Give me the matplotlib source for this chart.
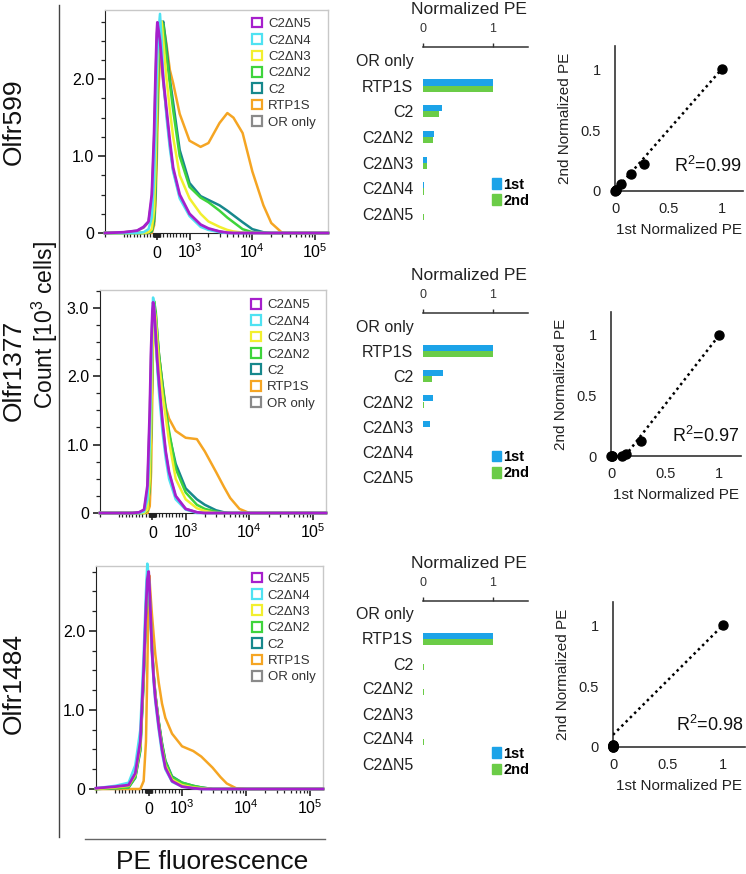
import numpy as np
import matplotlib
matplotlib.use("Agg")
import matplotlib.pyplot as plt
from matplotlib.patches import Patch
from matplotlib.lines import Line2D

plt.rcParams['font.family'] = ['Liberation Sans', 'DejaVu Sans']
plt.rcParams['mathtext.fontset'] = 'custom'
plt.rcParams['mathtext.rm'] = 'Liberation Sans'
plt.rcParams['mathtext.it'] = 'Liberation Sans:italic'
plt.rcParams['mathtext.bf'] = 'Liberation Sans:bold'

# ---------------- data ----------------
receptors = ["Olfr599", "Olfr1377", "Olfr1484"]
samples = ["C2ΔN5", "C2ΔN4", "C2ΔN3", "C2ΔN2", "C2", "RTP1S", "OR only"]
sample_colors = ["#a61fcc", "#4fe2f2", "#f2ef2e", "#3fd43c", "#17888c", "#f5a523", "#8a8a8a"]

# PE fluorescence positions where the histograms were read
pe = [-2000, -1000, -600, -400, -250, -150, -80, -40, 0, 20, 50, 100, 150, 200, 300,
      400, 500, 700, 1000, 1500, 2000, 3000, 4000, 5000, 7000, 10000, 15000, 20000, 30000, 160000]

# counts [10^3 cells], same order as samples
hist_599 = [
    [0, 0.01, 0.03, 0.08, 0.15, 0.5, 1.3, 2.0, 2.6, 2.74, 2.65, 2.5, 2.25, 2.0, 1.6, 1.2, 0.85, 0.5, 0.25, 0.11, 0.06, 0.02, 0.005, 0, 0, 0, 0, 0, 0, 0],
    [0, 0, 0, 0.01, 0.05, 0.2, 0.7, 1.3, 2.0, 2.3, 2.6, 2.85, 2.5, 2.05, 1.5, 1.1, 0.8, 0.45, 0.22, 0.08, 0.04, 0.01, 0, 0, 0, 0, 0, 0, 0, 0],
    [0, 0, 0, 0, 0.01, 0.05, 0.3, 0.8, 1.6, 2.0, 2.4, 2.7, 2.75, 2.5, 2.0, 1.6, 1.25, 0.75, 0.45, 0.25, 0.15, 0.08, 0.04, 0.02, 0.005, 0, 0, 0, 0, 0],
    [0, 0, 0, 0, 0.01, 0.03, 0.2, 0.6, 1.4, 1.8, 2.3, 2.6, 2.75, 2.7, 2.3, 1.95, 1.6, 1.0, 0.6, 0.46, 0.4, 0.29, 0.2, 0.14, 0.05, 0.01, 0, 0, 0, 0],
    [0, 0, 0, 0, 0, 0.02, 0.15, 0.5, 1.3, 1.7, 2.2, 2.55, 2.7, 2.75, 2.4, 2.0, 1.7, 1.08, 0.65, 0.48, 0.43, 0.36, 0.29, 0.23, 0.14, 0.05, 0.01, 0, 0, 0],
    [0, 0, 0, 0, 0, 0, 0.1, 0.35, 0.9, 1.3, 1.8, 2.3, 2.6, 2.72, 2.45, 2.12, 1.95, 1.55, 1.2, 1.12, 1.17, 1.43, 1.56, 1.5, 1.3, 0.8, 0.36, 0.13, 0, 0],
    [0, 0.01, 0.03, 0.07, 0.14, 0.45, 1.2, 1.9, 2.5, 2.65, 2.6, 2.45, 2.2, 1.95, 1.55, 1.15, 0.82, 0.48, 0.24, 0.1, 0.05, 0.02, 0, 0, 0, 0, 0, 0, 0, 0],
]
hist_1377 = [
    [0, 0, 0, 0.01, 0.05, 0.4, 1.5, 2.4, 2.95, 3.08, 3.0, 2.6, 2.2, 1.9, 1.35, 0.9, 0.6, 0.25, 0.06, 0.01, 0, 0, 0, 0, 0, 0, 0, 0, 0, 0],
    [0, 0, 0, 0, 0.02, 0.2, 1.0, 2.0, 2.9, 3.15, 3.05, 2.55, 2.1, 1.75, 1.2, 0.8, 0.5, 0.2, 0.05, 0, 0, 0, 0, 0, 0, 0, 0, 0, 0, 0],
    [0, 0, 0, 0, 0, 0.05, 0.5, 1.3, 2.3, 2.7, 3.0, 2.85, 2.5, 2.2, 1.75, 1.4, 1.05, 0.5, 0.2, 0.07, 0.03, 0, 0, 0, 0, 0, 0, 0, 0, 0],
    [0, 0, 0, 0, 0, 0.04, 0.4, 1.2, 2.2, 2.7, 3.1, 2.95, 2.6, 2.3, 1.85, 1.5, 1.2, 0.65, 0.3, 0.12, 0.06, 0.02, 0, 0, 0, 0, 0, 0, 0, 0],
    [0, 0, 0, 0, 0, 0.04, 0.4, 1.2, 2.2, 2.6, 3.0, 2.9, 2.6, 2.3, 1.9, 1.5, 1.15, 0.72, 0.36, 0.2, 0.12, 0.04, 0.01, 0, 0, 0, 0, 0, 0, 0],
    [0, 0, 0, 0, 0, 0, 0.1, 0.6, 1.8, 2.6, 3.05, 2.8, 2.5, 2.3, 1.9, 1.55, 1.38, 1.2, 1.1, 1.08, 0.9, 0.6, 0.38, 0.22, 0.06, 0, 0, 0, 0, 0],
    [0, 0, 0, 0.01, 0.04, 0.35, 1.4, 2.3, 2.9, 3.0, 2.9, 2.5, 2.15, 1.85, 1.3, 0.88, 0.58, 0.24, 0.06, 0.01, 0, 0, 0, 0, 0, 0, 0, 0, 0, 0],
]
hist_1484 = [
    [0.01, 0.03, 0.05, 0.2, 0.6, 1.5, 2.3, 2.65, 2.75, 2.6, 2.3, 1.75, 1.4, 1.15, 0.8, 0.5, 0.27, 0.1, 0.03, 0.01, 0, 0, 0, 0, 0, 0, 0, 0, 0, 0],
    [0.01, 0.04, 0.08, 0.3, 0.75, 1.7, 2.5, 2.85, 2.7, 2.5, 2.2, 1.7, 1.35, 1.1, 0.75, 0.45, 0.25, 0.09, 0.03, 0.01, 0, 0, 0, 0, 0, 0, 0, 0, 0, 0],
    [0, 0.02, 0.04, 0.18, 0.55, 1.45, 2.3, 2.65, 2.7, 2.55, 2.3, 1.78, 1.42, 1.18, 0.82, 0.52, 0.3, 0.12, 0.05, 0.02, 0.01, 0, 0, 0, 0, 0, 0, 0, 0, 0],
    [0, 0.01, 0.02, 0.15, 0.5, 1.4, 2.3, 2.7, 2.7, 2.55, 2.3, 1.8, 1.45, 1.2, 0.85, 0.57, 0.35, 0.15, 0.08, 0.04, 0.02, 0, 0, 0, 0, 0, 0, 0, 0, 0],
    [0, 0.01, 0.02, 0.14, 0.48, 1.35, 2.2, 2.6, 2.62, 2.5, 2.25, 1.78, 1.45, 1.2, 0.86, 0.58, 0.36, 0.16, 0.08, 0.04, 0.02, 0, 0, 0, 0, 0, 0, 0, 0, 0],
    [0, 0, 0, 0, 0, 0.1, 0.6, 1.5, 2.5, 2.7, 2.5, 2.2, 1.95, 1.7, 1.35, 1.08, 0.9, 0.7, 0.54, 0.48, 0.41, 0.27, 0.15, 0.07, 0.01, 0, 0, 0, 0, 0],
    [0.01, 0.02, 0.04, 0.17, 0.55, 1.45, 2.25, 2.6, 2.65, 2.5, 2.25, 1.75, 1.42, 1.18, 0.84, 0.55, 0.33, 0.14, 0.07, 0.03, 0.01, 0, 0, 0, 0, 0, 0, 0, 0, 0],
]
hist_ymax = [2.9, 3.26, 2.82]
hist_yticks = [[0, 1, 2], [0, 1, 2, 3], [0, 1, 2]]

# normalized PE, two experiments
bar_cats = ["OR only", "RTP1S", "C2", "C2ΔN2", "C2ΔN3", "C2ΔN4", "C2ΔN5"]
first_599 = [0, 1, 0.27, 0.15, 0.055, 0.01, 0.005]
second_599 = [0, 1, 0.225, 0.14, 0.06, 0.01, 0.01]
first_1377 = [0, 1, 0.28, 0.14, 0.1, 0.005, 0.005]
second_1377 = [0, 1, 0.126, 0.016, 0, 0, 0]
first_1484 = [0, 1, 0, 0, 0, 0, 0]
second_1484 = [0, 1, 0.01, 0.02, 0, 0.02, 0.005]

# dotted fit line ends and R^2
fit_x = [[0, 1], [0.13, 1], [0, 1]]
fit_y = [[0, 1], [0, 1], [0.1, 1]]
r2 = ["0.99", "0.97", "0.98"]

blue = "#1ca3e8"
green = "#6bcc47"

# ---------------- figure ----------------
W, H = 746, 874
fig = plt.figure(figsize=(W / 100, H / 100), dpi=100)


def box(x0, y0, x1, y1):
    # pixel box (top-left origin) -> figure fraction rect
    return [x0 / W, 1 - y1 / H, (x1 - x0) / W, (y1 - y0) / H]


hist_boxes = [box(105, 10, 328, 233), box(100, 290, 326, 513), box(96, 566, 323, 789)]
bar_boxes = [box(423, 47, 528, 227), box(423, 313, 528, 490), box(423, 601, 528, 776)]
sc_boxes = [box(615, 46, 743, 191), box(611, 312, 741, 456), box(613, 602, 745, 747)]
leg_anchor = [(0.66, 0.965), (0.67, 0.96), (0.687, 0.97)]
bar_leg_y = [0.19, 0.14, 0.08]
r2_y = [0.1, 0.07, 0.08]

hists = [hist_599, hist_1377, hist_1484]
firsts = [first_599, first_1377, first_1484]
seconds = [second_599, second_1377, second_1484]

xminor = ([-2000, -1000] + [-k * 100 for k in range(1, 10)] + [-k * 10 for k in range(1, 10)]
          + [k * 10 for k in range(1, 10)] + [k * 100 for k in range(1, 10)]
          + [k * 1000 for k in range(2, 10)] + [k * 10000 for k in range(2, 10)])

for i in range(3):
    # histogram
    ax = fig.add_axes(hist_boxes[i])
    order = list(range(len(samples)))[::-1]
    for j in order:
        ax.plot(pe, hists[i][j], color=sample_colors[j], lw=2.0 if j == 0 else 1.8,
                solid_joinstyle='round', clip_on=False, zorder=3 + (6 - j))
    ax.set_xscale('symlog', linthresh=1000, linscale=0.47)
    ax.set_xlim(-2000, 1.6e5)
    ax.set_ylim(0, hist_ymax[i])
    ax.set_xticks([0, 1e3, 1e4, 1e5])
    ax.set_xticklabels(['0', '$10^3$', '$10^4$', '$10^5$'])
    for lab in ax.get_xticklabels():
        lab.set_verticalalignment('baseline')
    ax.set_xticks(xminor, minor=True)
    ax.set_yticks(hist_yticks[i])
    ax.set_yticklabels(['0'] + ['%.1f' % v for v in hist_yticks[i][1:]])
    ax.set_yticks(np.arange(0, hist_ymax[i], 0.25), minor=True)
    ax.tick_params(axis='both', which='major', length=5, width=1.2, labelsize=11.5, color='#222222')
    ax.tick_params(axis='x', which='major', pad=13)
    ax.tick_params(axis='y', which='major', pad=3)
    ax.tick_params(axis='both', which='minor', length=3, width=0.9, color='#222222')
    for s in ['top', 'right']:
        ax.spines[s].set_color('#c8c8c8')
        ax.spines[s].set_linewidth(1.0)
    ax.spines['left'].set_color('#222222')
    ax.spines['bottom'].set_color('#222222')
    handles = [Patch(facecolor='white', edgecolor=c, linewidth=1.6) for c in sample_colors]
    ax.legend(handles, samples, loc='upper left', bbox_to_anchor=leg_anchor[i], frameon=False,
              fontsize=9.5, handlelength=0.75, handleheight=0.75, handletextpad=0.45,
              labelspacing=0.3, borderpad=0, borderaxespad=0, labelcolor='#333333')

    # bars
    bx = fig.add_axes(bar_boxes[i])
    ypos = np.arange(len(bar_cats))
    bx.barh(ypos - 0.12, firsts[i], height=0.24, color=blue)
    bx.barh(ypos + 0.12, seconds[i], height=0.24, color=green)
    bx.set_xlim(0, 1.5)
    bx.set_ylim(6.5, -0.5)
    bx.xaxis.tick_top()
    bx.set_xticks([0, 1])
    bx.set_xticklabels(['0', '1'])
    bx.set_yticks(ypos)
    bx.set_yticklabels(bar_cats)
    bx.tick_params(axis='x', length=3, width=1, pad=6, labelsize=9, color='#333333', labelcolor='#333333')
    bx.tick_params(axis='y', length=0, pad=7, labelsize=11.5, labelcolor='#222222')
    for s in ['left', 'right', 'bottom']:
        bx.spines[s].set_visible(False)
    bx.spines['top'].set_color('#333333')
    bx.spines['top'].set_linewidth(1.1)
    bx.annotate('Normalized PE', xy=(0.44, 1), xycoords='axes fraction', xytext=(0, 27),
                textcoords='offset points', ha='center', va='center', fontsize=12.5, color='#222222')
    bx.legend([Patch(color=blue), Patch(color=green)], ['1st', '2nd'], loc='center left',
              bbox_to_anchor=(0.66, bar_leg_y[i]), frameon=False,
              prop={'weight': 'bold', 'size': 10.5}, handlelength=0.6, handleheight=0.75,
              handletextpad=0.15, labelspacing=0.15, borderpad=0, borderaxespad=0)

    # scatter
    sx = fig.add_axes(sc_boxes[i])
    sx.plot(fit_x[i], fit_y[i], color='black', lw=1.8, ls=(0, (1, 1.4)), zorder=3)
    sx.plot(firsts[i], seconds[i], 'o', color='black', ms=6.5, clip_on=False, zorder=5)
    sx.set_xlim(0, 1.2)
    sx.set_ylim(0, 1.19)
    sx.set_xticks([0, 0.5, 1])
    sx.set_xticklabels(['0', '0.5', '1'])
    sx.set_yticks([0, 0.5, 1])
    sx.set_yticklabels(['0', '0.5', '1'])
    sx.tick_params(length=0, labelsize=10.5, labelcolor='#222222')
    sx.tick_params(axis='x', pad=8)
    sx.tick_params(axis='y', pad=10)
    for s in ['top', 'right']:
        sx.spines[s].set_visible(False)
    for s in ['left', 'bottom']:
        sx.spines[s].set_color('#333333')
        sx.spines[s].set_linewidth(1.2)
    sx.set_xlabel('1st Normalized PE', fontsize=11, labelpad=5, color='#222222')
    sx.set_ylabel('2nd Normalized PE', fontsize=11, labelpad=6, color='#222222')
    sx.text(0.99, r2_y[i], 'R$^2$=' + r2[i], transform=sx.transAxes, ha='right', va='bottom',
            fontsize=13, color='#111111')

# row labels and shared axis labels
row_y = [122, 370, 683]
for name, yy in zip(receptors, row_y):
    fig.text(14 / W, 1 - yy / H, name, rotation=90, ha='center', va='center', fontsize=19, color='#111111')
fig.text(45 / W, 1 - 325 / H, 'Count [10$^3$ cells]', rotation=90, ha='center', va='center',
         fontsize=16.5, color='#111111')
fig.text(212 / W, 1 - 862 / H, 'PE fluorescence', ha='center', va='center', fontsize=19, color='#111111')
fig.add_artist(Line2D([59 / W, 59 / W], [1 - 5 / H, 1 - 837 / H], transform=fig.transFigure,
                      color='#444444', lw=1.0))
fig.add_artist(Line2D([85 / W, 325 / W], [1 - 839 / H, 1 - 839 / H], transform=fig.transFigure,
                      color='#666666', lw=1.0))

fig.savefig('out.png', dpi=100)
